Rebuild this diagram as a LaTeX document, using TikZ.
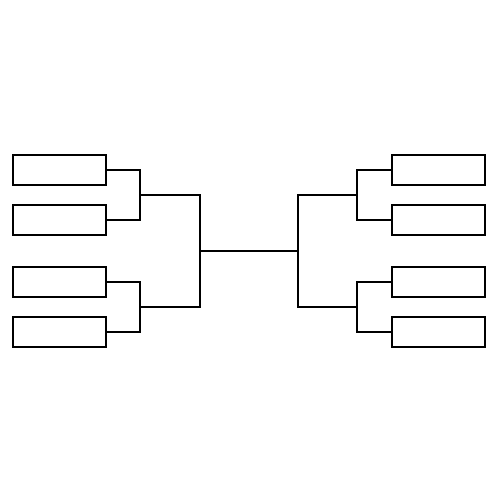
\documentclass[tikz,border=0pt]{standalone}
\begin{document}
\begin{tikzpicture}[x=0.02cm, y=-0.02cm, line width=0.04cm,
  slot/.style={draw, rectangle, inner sep=0pt, minimum width=1.86cm, minimum height=0.6cm}]
\useasboundingbox (0,0) rectangle (500,500);
% left half
\node[slot] (lb1) at (59.5,170){};
\node[slot] (lb2) at (59.5,220){};
\node[slot] (lb3) at (59.5,282){};
\node[slot] (lb4) at (59.5,332){};
\coordinate (lj1) at (140,195);
\coordinate (lj2) at (140,307);
\coordinate (lm) at (200,251);
\draw[](lb1) -| (lj1) |- (lb2);
\draw[](lb3) -| (lj2) |- (lb4);
\draw[](lj1) -| (lm) |- (lj2);
% right half
\node[slot] (rb1) at (438.5,170){};
\node[slot] (rb2) at (438.5,220){};
\node[slot] (rb3) at (438.5,282){};
\node[slot] (rb4) at (438.5,332){};
\coordinate (rj1) at (357,195);
\coordinate (rj2) at (357,307);
\coordinate (rm) at (298,251);
\draw[](rb1) -| (rj1) |- (rb2);
\draw[](rb3) -| (rj2) |- (rb4);
\draw[](rj1) -| (rm) |- (rj2);
% final
\draw[](lm) -- (rm);
\end{tikzpicture}
\end{document}
